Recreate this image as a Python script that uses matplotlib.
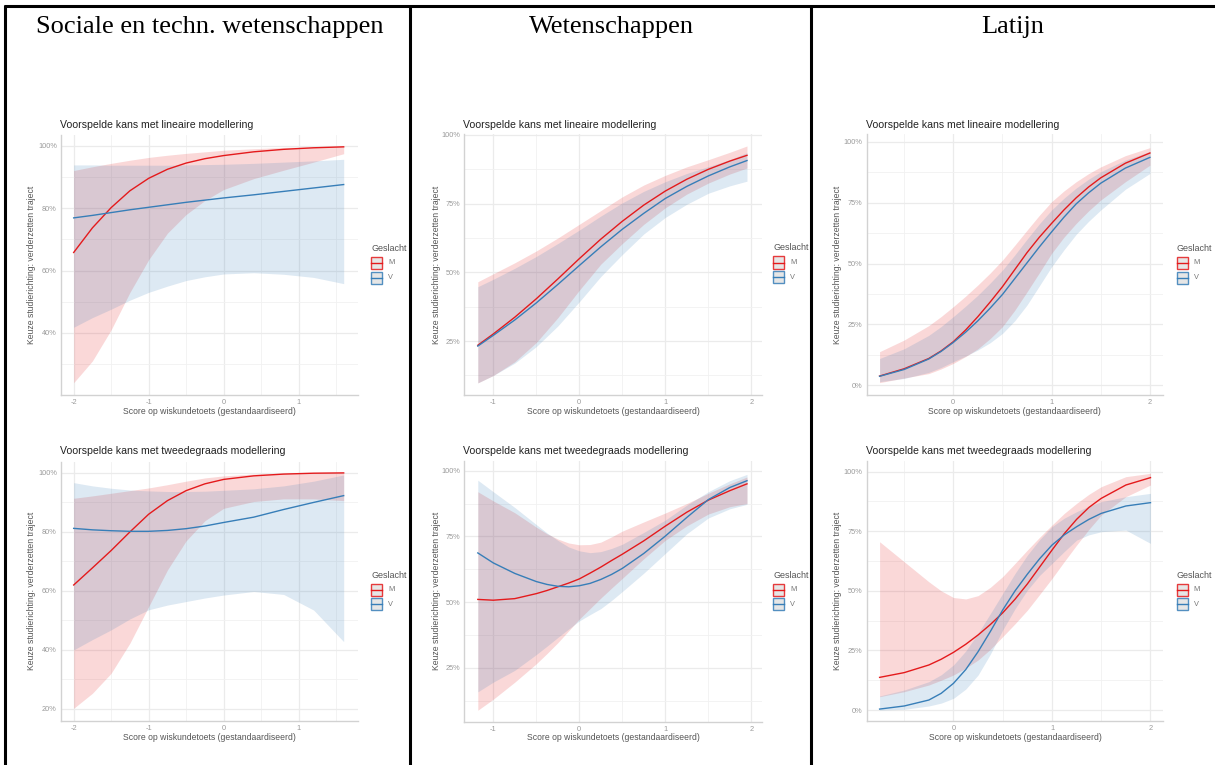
import matplotlib
matplotlib.use('Agg')
import matplotlib.pyplot as plt
from matplotlib.patches import Rectangle
from matplotlib.lines import Line2D

# ---------------- data (percent) ----------------
headers = ["Sociale en techn. wetenschappen", "Wetenschappen", "Latijn"]
title_lin = "Voorspelde kans met lineaire modellering"
title_kw = "Voorspelde kans met tweedegraads modellering"
xlabel = "Score op wiskundetoets (gestandaardiseerd)"
ylabel = "Keuze studierichting: verderzetten traject"
legend_title = "Geslacht"
groups = ["M", "V"]

# Sociale en techn. wetenschappen - lineair
stw_x = [-2, -1.75, -1.5, -1.25, -1, -0.75, -0.5, -0.25, 0, 0.4, 0.8, 1.2, 1.6]
stw_lin_m = [65.8, 73.7, 80.2, 85.6, 89.6, 92.5, 94.5, 95.9, 96.9, 98.1, 98.9, 99.4, 99.7]
stw_lin_m_lo = [24.0, 31.0, 41.0, 53.0, 63.5, 72.0, 78.0, 82.5, 86.0, 89.5, 92.2, 94.8, 97.5]
stw_lin_m_hi = [92.1, 93.3, 94.4, 95.4, 96.3, 97.0, 97.6, 98.1, 98.6, 99.1, 99.5, 99.7, 99.9]
stw_lin_v = [76.9, 77.7, 78.6, 79.5, 80.3, 81.1, 81.9, 82.6, 83.3, 84.3, 85.4, 86.5, 87.6]
stw_lin_v_lo = [41.8, 44.9, 47.6, 50.5, 53.0, 55.0, 56.8, 58.0, 58.9, 59.3, 58.8, 57.8, 55.8]
stw_lin_v_hi = [93.9, 93.9, 93.8, 93.8, 93.8, 93.8, 93.9, 94.0, 94.1, 94.4, 94.8, 95.2, 95.7]

# Sociale en techn. wetenschappen - tweedegraads
stw_kw_m = [62.0, 67.8, 73.7, 80.0, 86.0, 90.6, 94.0, 96.3, 97.8, 99.0, 99.6, 99.9, 100.0]
stw_kw_m_lo = [20.2, 25.3, 32.1, 42.3, 54.7, 67.1, 77.0, 83.8, 88.0, 90.3, 91.2, 91.2, 90.6]
stw_kw_m_hi = [91.4, 92.2, 93.1, 94.0, 94.9, 96.0, 97.2, 98.3, 99.0, 99.6, 99.9, 100.0, 100.0]
stw_kw_v = [81.2, 80.7, 80.4, 80.2, 80.2, 80.5, 81.1, 82.0, 83.2, 85.0, 87.6, 90.0, 92.3]
stw_kw_v_lo = [40.0, 43.5, 46.8, 50.5, 53.6, 55.2, 56.4, 57.6, 58.6, 59.8, 58.8, 53.5, 42.8]
stw_kw_v_hi = [96.7, 95.6, 94.8, 94.2, 93.9, 93.7, 93.7, 93.8, 94.1, 94.6, 95.6, 97.2, 99.3]

# Wetenschappen - lineair
wet_lin_x = [-1.18, -1, -0.75, -0.5, -0.25, 0, 0.25, 0.5, 0.75, 1, 1.25, 1.5, 1.75, 1.95]
wet_lin_m = [23.5, 27.6, 33.7, 40.4, 47.6, 55.0, 62.1, 68.6, 74.5, 79.6, 83.9, 87.5, 90.5, 92.6]
wet_lin_m_lo = [9.8, 12.5, 17.5, 24.5, 33.5, 43.5, 53.0, 60.5, 67.5, 73.5, 78.5, 82.5, 85.8, 88.0]
wet_lin_m_hi = [46.6, 49.5, 53.5, 57.8, 62.5, 67.5, 72.5, 77.5, 81.8, 85.3, 88.4, 91.0, 93.7, 96.0]
wet_lin_v = [23.2, 27.1, 32.7, 38.9, 45.6, 52.5, 59.3, 65.7, 71.5, 76.9, 81.3, 85.1, 88.4, 90.7]
wet_lin_v_lo = [9.8, 12.5, 17.0, 23.0, 30.5, 39.3, 48.5, 56.5, 64.0, 70.0, 74.8, 78.8, 81.5, 83.2]
wet_lin_v_hi = [44.8, 47.5, 51.5, 55.8, 60.5, 65.4, 70.5, 75.3, 79.5, 83.0, 86.0, 88.5, 91.0, 93.6]

# Wetenschappen - tweedegraads
wet_kw_x = [-1.18, -1, -0.75, -0.5, -0.375, -0.25, -0.125, 0, 0.125, 0.25, 0.375, 0.5,
            0.75, 1, 1.25, 1.5, 1.75, 1.95]
wet_kw_m = [51.0, 50.7, 51.3, 53.2, 54.4, 55.8, 57.2, 58.8, 61.0, 63.3, 65.8, 68.2,
            73.3, 78.9, 84.2, 88.8, 92.4, 95.0]
wet_kw_m_lo = [8.8, 13.0, 19.5, 26.5, 30.4, 34.5, 39.0, 43.5, 47.5, 51.5, 55.3, 59.0,
               66.5, 73.5, 79.0, 83.5, 86.3, 87.5]
wet_kw_m_hi = [92.0, 88.5, 84.0, 78.5, 76.0, 74.0, 72.5, 71.8, 71.9, 72.8, 74.8, 77.0,
               80.5, 83.9, 87.5, 91.4, 95.0, 97.6]
wet_kw_v = [68.7, 64.9, 60.9, 57.8, 56.7, 56.0, 55.8, 56.2, 57.1, 58.6, 60.5, 62.8,
            68.5, 75.1, 82.2, 89.0, 93.6, 96.2]
wet_kw_v_lo = [15.8, 19.5, 24.0, 30.0, 33.2, 36.5, 39.7, 42.8, 45.2, 47.5, 50.6, 54.0,
               61.0, 68.5, 76.0, 82.0, 85.5, 87.2]
wet_kw_v_hi = [96.4, 92.0, 86.0, 79.5, 76.3, 73.5, 71.0, 69.5, 68.8, 69.2, 70.4, 72.0,
               76.5, 81.2, 86.9, 92.0, 96.2, 98.6]

# Latijn (both models share this grid)
lat_x = [-0.75, -0.5, -0.25, -0.125, 0, 0.125, 0.25, 0.375, 0.5, 0.625, 0.75, 0.875,
         1, 1.125, 1.25, 1.375, 1.5, 1.75, 2]

# Latijn - lineair
lat_lin_m = [3.8, 6.8, 11.0, 14.1, 17.9, 22.7, 28.2, 34.2, 40.5, 47.5, 54.5, 60.8,
             66.5, 72.0, 77.0, 81.4, 85.2, 91.2, 95.4]
lat_lin_m_lo = [1.1, 3.0, 4.8, 6.7, 9.0, 11.8, 15.0, 19.2, 24.1, 30.8, 38.4, 46.2,
                54.2, 60.8, 66.5, 71.6, 76.1, 83.6, 90.4]
lat_lin_m_hi = [13.8, 18.6, 24.5, 28.2, 32.3, 36.6, 41.2, 46.1, 51.4, 57.5, 63.7, 69.8,
                75.4, 79.8, 83.6, 86.9, 89.7, 94.3, 97.6]
lat_lin_v = [3.7, 6.5, 10.8, 13.9, 17.6, 21.8, 26.5, 31.7, 37.3, 43.8, 50.3, 56.8,
             63.0, 69.0, 74.5, 79.0, 83.0, 89.2, 93.6]
lat_lin_v_lo = [1.5, 2.8, 5.3, 7.3, 9.7, 12.0, 14.5, 17.5, 21.3, 26.5, 33.0, 40.8,
                48.7, 55.6, 62.0, 67.3, 72.0, 80.5, 87.0]
lat_lin_v_hi = [11.0, 15.0, 20.5, 24.1, 28.2, 32.5, 37.0, 42.0, 47.3, 53.5, 60.0, 66.3,
                72.0, 76.8, 81.0, 84.6, 87.7, 92.5, 96.0]

# Latijn - tweedegraads
lat_kw_m = [13.7, 15.7, 18.9, 21.3, 24.2, 27.6, 31.5, 35.9, 40.8, 46.5, 52.9, 60.0,
            67.1, 74.0, 80.0, 85.0, 88.8, 94.4, 97.5]
lat_kw_m_lo = [5.6, 7.7, 10.5, 12.5, 14.7, 17.6, 21.0, 25.5, 30.8, 36.2, 41.9, 48.5,
               55.2, 62.3, 69.2, 75.8, 81.8, 89.5, 94.4]
lat_kw_m_hi = [70.6, 62.2, 53.8, 50.0, 47.2, 46.6, 48.0, 51.5, 56.0, 61.5, 67.1, 72.5,
               77.6, 82.5, 86.7, 90.5, 93.7, 97.9, 99.3]
lat_kw_v = [0.4, 1.7, 4.2, 7.0, 11.2, 17.0, 24.5, 33.0, 42.0, 50.0, 57.0, 63.5,
            69.2, 73.5, 76.9, 80.0, 82.5, 85.6, 87.0]
lat_kw_v_lo = [0.0, 0.3, 1.7, 2.9, 4.9, 8.8, 14.7, 23.5, 33.6, 42.5, 50.3, 56.5,
               61.5, 66.5, 71.3, 73.5, 74.8, 75.5, 69.9]
lat_kw_v_hi = [5.9, 8.4, 11.9, 14.8, 18.9, 24.8, 32.2, 40.5, 48.9, 57.3, 65.0, 71.5,
               76.9, 80.5, 83.2, 85.5, 87.4, 89.5, 90.9]

# ---------------- layout ----------------
W, H = 1215, 765
fig = plt.figure(figsize=(12.15, 7.65), dpi=100)
fig.patch.set_facecolor('white')

RED = '#E41A1C'
BLUE = '#377EB8'
ALPHA = 0.17
SANS = 'Liberation Sans'


def fx(x):
    return x / W


def fy(y):
    return 1 - y / H


panels = [
    dict(x=stw_x, m=stw_lin_m, mlo=stw_lin_m_lo, mhi=stw_lin_m_hi, v=stw_lin_v, vlo=stw_lin_v_lo, vhi=stw_lin_v_hi,
         box=(61, 358, 135, 395), xlim=(-2.169, 1.791), ylim=(20.06, 103.5),
         xmaj=[-2, -1, 0, 1], xmin=[-1.5, -0.5, 0.5, 1.5], ymaj=[40, 60, 80, 100], ymin=[30, 50, 70, 90],
         title=title_lin, ty=124.5, xly=411.5, ylx=32, leg=(371, 248.5)),
    dict(x=stw_x, m=stw_kw_m, mlo=stw_kw_m_lo, mhi=stw_kw_m_hi, v=stw_kw_v, vlo=stw_kw_v_lo, vhi=stw_kw_v_hi,
         box=(61, 358, 461.7, 721), xlim=(-2.169, 1.791), ylim=(15.9, 103.8),
         xmaj=[-2, -1, 0, 1], xmin=[-1.5, -0.5, 0.5, 1.5], ymaj=[20, 40, 60, 80, 100], ymin=[30, 50, 70, 90],
         title=title_kw, ty=450.7, xly=737, ylx=32, leg=(371, 575)),
    dict(x=wet_lin_x, m=wet_lin_m, mlo=wet_lin_m_lo, mhi=wet_lin_m_hi, v=wet_lin_v, vlo=wet_lin_v_lo, vhi=wet_lin_v_hi,
         box=(464.3, 761.7, 134, 395), xlim=(-1.337, 2.121), ylim=(5.4, 100.36),
         xmaj=[-1, 0, 1, 2], xmin=[-0.5, 0.5, 1.5], ymaj=[25, 50, 75, 100], ymin=[12.5, 37.5, 62.5, 87.5],
         title=title_lin, ty=124.5, xly=411.5, ylx=436.5, leg=(773, 248)),
    dict(x=wet_kw_x, m=wet_kw_m, mlo=wet_kw_m_lo, mhi=wet_kw_m_hi, v=wet_kw_v, vlo=wet_kw_v_lo, vhi=wet_kw_v_hi,
         box=(464.3, 761.7, 461, 721.7), xlim=(-1.337, 2.121), ylim=(4.44, 103.7),
         xmaj=[-1, 0, 1, 2], xmin=[-0.5, 0.5, 1.5], ymaj=[25, 50, 75, 100], ymin=[12.5, 37.5, 62.5, 87.5],
         title=title_kw, ty=450.7, xly=737, ylx=436.5, leg=(773, 575)),
    dict(x=lat_x, m=lat_lin_m, mlo=lat_lin_m_lo, mhi=lat_lin_m_hi, v=lat_lin_v, vlo=lat_lin_v_lo, vhi=lat_lin_v_hi,
         box=(866.7, 1162.7, 134, 395), xlim=(-0.881, 2.130), ylim=(-3.98, 103.2),
         xmaj=[0, 1, 2], xmin=[-0.5, 0.5, 1.5], ymaj=[0, 25, 50, 75, 100], ymin=[12.5, 37.5, 62.5, 87.5],
         title=title_lin, ty=124.5, xly=411.5, ylx=838, leg=(1176.5, 248.5)),
    dict(x=lat_x, m=lat_kw_m, mlo=lat_kw_m_lo, mhi=lat_kw_m_hi, v=lat_kw_v, vlo=lat_kw_v_lo, vhi=lat_kw_v_hi,
         box=(866.7, 1163.3, 460.7, 721), xlim=(-0.881, 2.130), ylim=(-4.6, 104.6),
         xmaj=[0, 1, 2], xmin=[-0.5, 0.5, 1.5], ymaj=[0, 25, 50, 75, 100], ymin=[12.5, 37.5, 62.5, 87.5],
         title=title_kw, ty=450.7, xly=737, ylx=838, leg=(1176.5, 575)),
]

for p in panels:
    l, r, t, b = p['box']
    ax = fig.add_axes([fx(l), fy(b), (r - l) / W, (b - t) / H])
    ax.set_facecolor('white')
    ax.fill_between(p['x'], p['mlo'], p['mhi'], color=RED, alpha=ALPHA, lw=0, zorder=2)
    ax.fill_between(p['x'], p['vlo'], p['vhi'], color=BLUE, alpha=ALPHA, lw=0, zorder=2)
    ax.plot(p['x'], p['m'], color=RED, lw=1.0, zorder=3, solid_joinstyle='round')
    ax.plot(p['x'], p['v'], color=BLUE, lw=1.0, zorder=3, solid_joinstyle='round')
    ax.set_xlim(*p['xlim'])
    ax.set_ylim(*p['ylim'])
    ax.set_xticks(p['xmaj'])
    ax.set_xticklabels([f"{v:g}" for v in p['xmaj']])
    ax.set_xticks(p['xmin'], minor=True)
    ax.set_yticks(p['ymaj'])
    ax.set_yticklabels([f"{v:g}%" for v in p['ymaj']])
    ax.set_yticks(p['ymin'], minor=True)
    ax.grid(which='major', color='#EBEBEB', lw=0.9, zorder=0)
    ax.grid(which='minor', color='#F1F1F1', lw=0.6, zorder=0)
    ax.set_axisbelow(True)
    ax.tick_params(which='both', length=0)
    ax.tick_params(axis='x', labelsize=5.3, labelcolor='#9A9A9A', pad=3)
    ax.tick_params(axis='y', labelsize=5.3, labelcolor='#9A9A9A', pad=3)
    for lab in ax.get_xticklabels() + ax.get_yticklabels():
        lab.set_fontfamily(SANS)
    for s in ['top', 'right']:
        ax.spines[s].set_visible(False)
    for s in ['left', 'bottom']:
        ax.spines[s].set_color('#D2D2D2')
        ax.spines[s].set_linewidth(1.0)

    # title, axis titles
    fig.text(fx(l - 1), fy(p['ty']), p['title'], ha='left', va='center', fontsize=7.6,
             family=SANS, color='#222222')
    fig.text(fx((l + r) / 2), fy(p['xly']), xlabel, ha='center', va='center', fontsize=6.2,
             family=SANS, color='#555555')
    fig.text(fx(p['ylx']), fy((t + b) / 2), ylabel, ha='center', va='center', rotation=90,
             fontsize=6.2, family=SANS, color='#555555')

    # legend
    lx, ly = p['leg']
    fig.text(fx(lx), fy(ly), legend_title, ha='left', va='center', fontsize=6.5, family=SANS,
             color='#555555')
    for i, (g, col) in enumerate(zip(groups, [RED, BLUE])):
        cy = ly + 14.5 + i * 14.5
        rect = Rectangle((fx(lx), fy(cy + 6)), 11 / W, 12 / H, transform=fig.transFigure,
                         facecolor='#E2E2E2', edgecolor=col, lw=1.0, alpha=0.85)
        fig.add_artist(rect)
        fig.add_artist(Line2D([fx(lx), fx(lx + 11)], [fy(cy), fy(cy)], color=col, lw=1.0,
                              transform=fig.transFigure))
        fig.text(fx(lx + 17), fy(cy), g, ha='left', va='center', fontsize=5.3, family=SANS,
                 color='#777777')

# headers
for txt, cx in zip(headers, [209.5, 611, 1013]):
    fig.text(fx(cx), fy(33), txt, ha='center', va='baseline', fontsize=19,
             family='Liberation Serif', color='black')

# table lines
LW = 2.2
for (x0, y0, x1, y1) in [(4, 6, 1215, 6), (5, 5, 5, 765), (409.5, 5, 409.5, 765), (811, 5, 811, 765)]:
    fig.add_artist(Line2D([fx(x0), fx(x1)], [fy(y0), fy(y1)], color='black', lw=LW,
                          transform=fig.transFigure, solid_capstyle='butt'))

fig.savefig('out.png', dpi=100, facecolor='white')
